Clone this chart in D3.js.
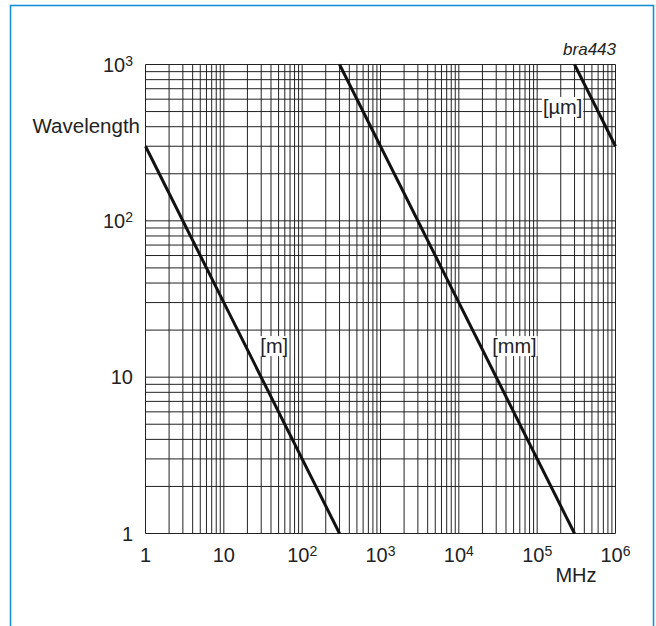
<!DOCTYPE html>
<html>
<head>
<meta charset="utf-8">
<script src="https://cdn.jsdelivr.net/npm/d3@7"></script>
<style>
  body { margin: 0; background: #fff; }
  text { font-family: "Liberation Sans", Arial, sans-serif; fill: #222; }
</style>
</head>
<body>
<div id="chart"></div>
<script>
// axis ticks (value, exponent shown as superscript)
var xTickValues = [1, 10, 1e2, 1e3, 1e4, 1e5, 1e6];
var xTickExps   = [null, null, 2, 3, 4, 5, 6];
var yTickValues = [1, 10, 1e2, 1e3];
var yTickExps   = [null, null, 2, 3];

// wavelength lines: [frequency MHz, wavelength]
var metreLine = [[1, 300], [300, 1]];
var milliLine = [[300, 1000], [300000, 1]];
var microLine = [[300000, 1000], [1000000, 300]];

var lineNames = ["[m]", "[mm]", "[µm]"];
// label anchors in data units (MHz, wavelength)
var labelAnchors = [[44, 15.8], [51300, 15.8], [211000, 535]];

var width = 656, height = 626;
var margin = { top: 64.5, right: 40.5, bottom: 92.5, left: 145.5 };

var svg = d3.select("#chart").append("svg")
  .attr("width", width)
  .attr("height", height);

// blue frame
svg.append("rect")
  .attr("x", 10.5).attr("y", 5.5)
  .attr("width", 643).attr("height", 640)
  .attr("fill", "none")
  .attr("stroke", "#1890d6")
  .attr("stroke-width", 1.6);

var x = d3.scaleLog()
  .domain([1, 1e6])
  .range([margin.left, width - margin.right]);

var y = d3.scaleLog()
  .domain([1, 1e3])
  .range([height - margin.bottom, margin.top]);

var grid = svg.append("g").attr("stroke", "#222").attr("stroke-width", 1);

grid.selectAll("line.vx")
  .data(x.ticks())
  .enter().append("line")
    .attr("class", "vx")
    .attr("x1", function(d) { return x(d); })
    .attr("x2", function(d) { return x(d); })
    .attr("y1", y(1))
    .attr("y2", y(1e3));

grid.selectAll("line.hy")
  .data(y.ticks())
  .enter().append("line")
    .attr("class", "hy")
    .attr("y1", function(d) { return y(d); })
    .attr("y2", function(d) { return y(d); })
    .attr("x1", x(1))
    .attr("x2", x(1e6));

var wl = d3.line()
  .x(function(d) { return x(d[0]); })
  .y(function(d) { return y(d[1]); });

[metreLine, milliLine, microLine].forEach(function(s) {
  svg.append("path")
    .attr("d", wl(s))
    .attr("fill", "none")
    .attr("stroke", "#111")
    .attr("stroke-width", 3);
});

// labels with white background
lineNames.forEach(function(name, i) {
  var g = svg.append("g");
  var bg = g.append("rect").attr("fill", "#fff");
  var t = g.append("text")
    .attr("x", x(labelAnchors[i][0]))
    .attr("y", y(labelAnchors[i][1]))
    .attr("dy", "0.35em")
    .attr("text-anchor", "middle")
    .style("font-size", "20px")
    .text(name);
  var b = t.node().getBBox();
  bg.attr("x", b.x - 1).attr("y", b.y + 1)
    .attr("width", b.width + 2).attr("height", b.height - 2);
});

function tickLabel(sel, v, exp) {
  if (exp === null) {
    sel.text(String(v));
  } else {
    sel.append("tspan").text("10");
    sel.append("tspan")
      .attr("dy", -6)
      .style("font-size", "14px")
      .text(exp);
  }
}

// x tick labels
xTickValues.forEach(function(v, i) {
  var t = svg.append("text")
    .attr("x", x(v))
    .attr("y", 562)
    .attr("text-anchor", "middle")
    .style("font-size", "20px");
  tickLabel(t, v, xTickExps[i]);
});

// y tick labels
yTickValues.forEach(function(v, i) {
  var t = svg.append("text")
    .attr("x", 133)
    .attr("y", y(v) + 7)
    .attr("text-anchor", "end")
    .style("font-size", "20px");
  tickLabel(t, v, yTickExps[i]);
});

// axis titles
svg.append("text")
  .attr("x", 140)
  .attr("y", 133)
  .attr("text-anchor", "end")
  .style("font-size", "20.5px")
  .text("Wavelength");

svg.append("text")
  .attr("x", 576)
  .attr("y", 582)
  .attr("text-anchor", "middle")
  .style("font-size", "20px")
  .text("MHz");

svg.append("text")
  .attr("x", 616)
  .attr("y", 55)
  .attr("text-anchor", "end")
  .style("font-size", "17px")
  .style("font-style", "italic")
  .text("bra443");
</script>
</body>
</html>
